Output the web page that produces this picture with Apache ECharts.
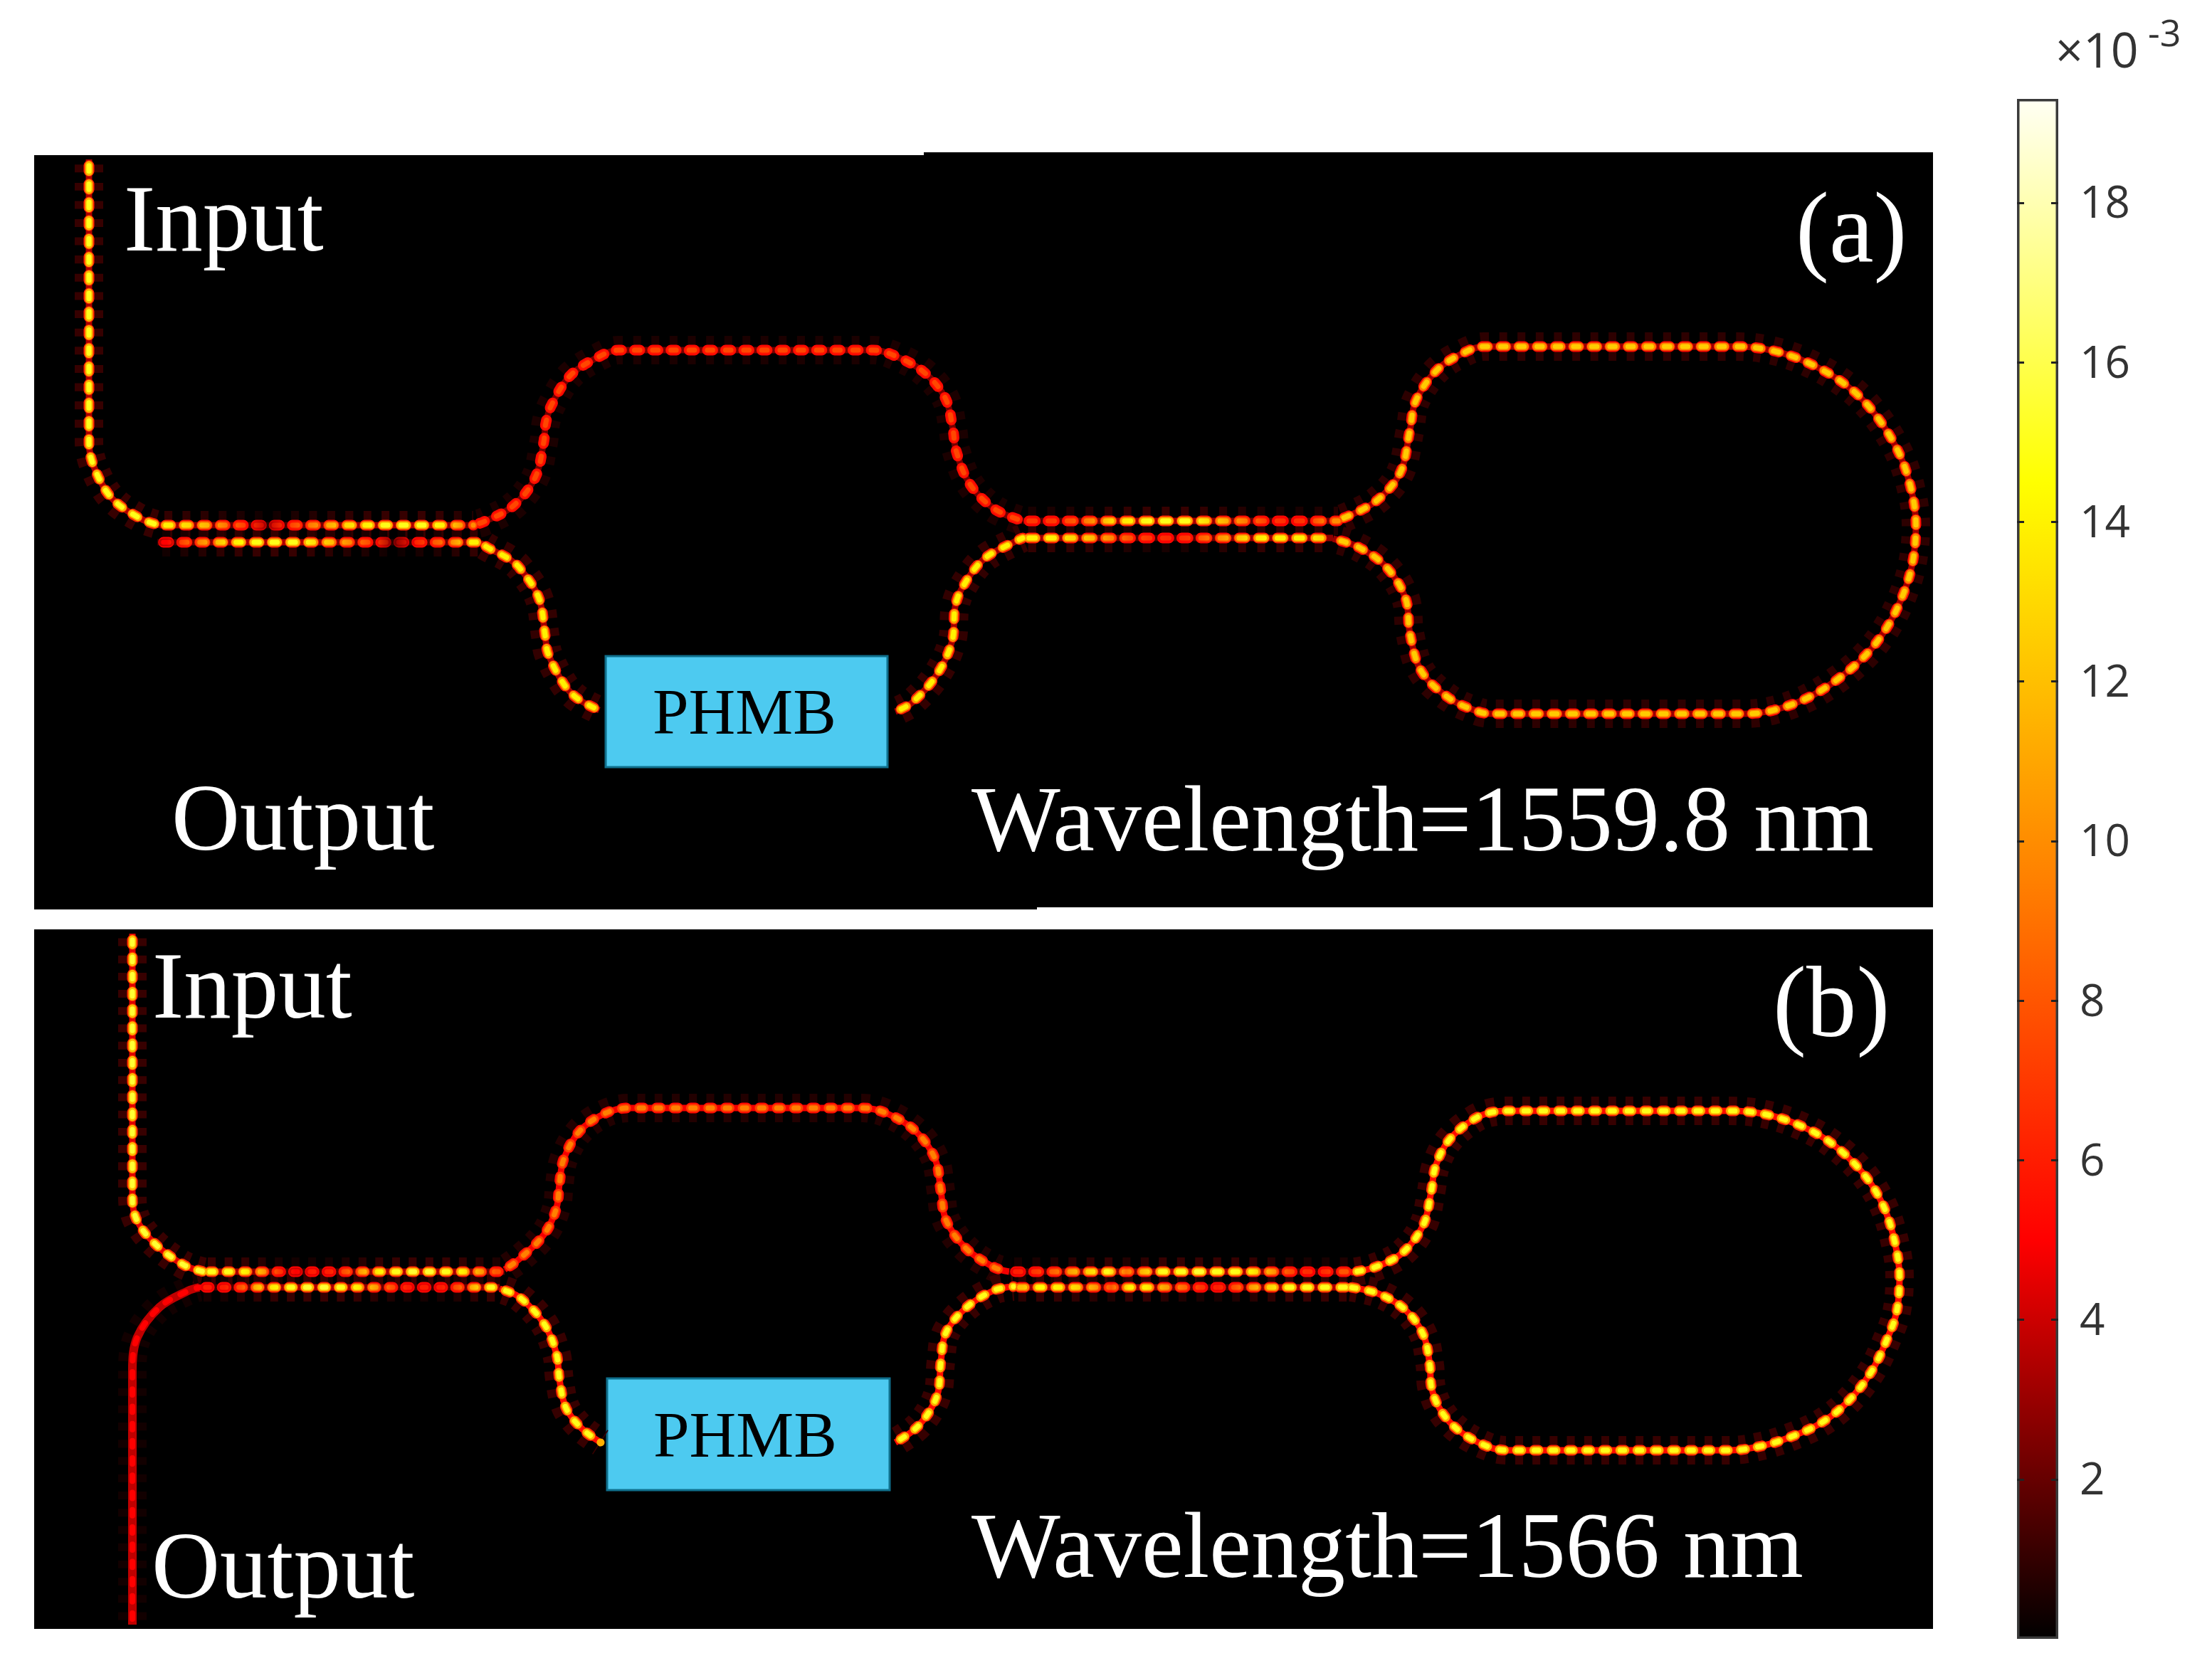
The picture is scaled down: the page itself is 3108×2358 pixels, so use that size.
<!DOCTYPE html>
<html>
<head>
<meta charset="utf-8">
<style>html,body{margin:0;padding:0;background:#fff}#c{width:3108px;height:2358px}</style>
<script src="https://cdn.jsdelivr.net/npm/echarts@6/dist/echarts.min.js"></script>
</head>
<body>
<div id="c"></div>
<script>
// ---------- colour scale (×10^-3) ----------
const scaleStops = [[0,'#000000'],[5,'#ff0000'],[9.5,'#ff8000'],[14.5,'#ffff00'],[19.3,'#fffff4']];
const scaleMax = 19.3;
const scaleTicks = [2,4,6,8,10,12,14,16,18];

// ---------- waveguide centre lines, panel (a) ----------
const aInput = [[125,224],[125,621],[132,656],[157,700],[198,729],[224,738]];
const aUpperLoop = [[665,737],[678,734],[721,711],[752,671],[764,621],[767,594],[775,569],[802,527],[844,500],[869,492],[1227,492],[1255,499],[1297,522],[1328,559],[1339,604],[1343,632],[1362,679],[1397,715],[1437,732]];
const aLowerLeft = [[675,763],[688,771],[713,784],[730,798],[757,840],[766,893],[770,918],[792,961],[812,982],[842,998]];
const aLowerRight = [[1258,1000],[1282,987],[1317,947],[1338,900],[1342,853],[1352,826],[1382,786],[1426,761],[1437,756]];
const aRing = [[1880,731],[1931,706],[1967,665],[1981,605],[1989,564],[2019,520],[2058,495],[2085,487],[2442,487],[2492,493],[2541,510],[2591,539],[2629,575],[2665,630],[2684,682],[2692,739],[2687,792],[2673,838],[2651,882],[2621,921],[2580,956],[2539,981],[2492,998],[2453,1003],[2096,1003],[2077,1000],[2036,981],[1997,943],[1981,890],[1975,841],[1948,797],[1909,769],[1873,757]];

// ---------- waveguide centre lines, panel (b) ----------
const bInput = [[186,1312],[186,1684],[193,1716],[219,1749],[259,1778],[286,1787]];
const bOutput = [[186,2283],[186,1925],[193,1879],[224,1837],[264,1814],[280,1809]];
const bUpperLoop = [[709,1784],[730,1769],[765,1734],[782,1697],[786,1664],[792,1629],[814,1590],[849,1565],[884,1557],[1212,1557],[1247,1565],[1287,1590],[1314,1629],[1322,1674],[1329,1714],[1357,1754],[1397,1781],[1418,1787]];
const bLowerLeft = [[702,1811],[730,1823],[765,1861],[782,1903],[786,1938],[795,1978],[817,2007],[844,2027]];
const bLowerRight = [[1258,2027],[1292,2002],[1317,1960],[1322,1913],[1329,1873],[1357,1838],[1397,1813],[1424,1808]];
const bRing = [[1898,1788],[1931,1781],[1970,1761],[2000,1721],[2011,1674],[2017,1639],[2036,1602],[2072,1572],[2102,1562],[2124,1561],[2431,1561],[2481,1566],[2530,1582],[2574,1607],[2618,1649],[2646,1694],[2662,1744],[2669,1794],[2665,1843],[2651,1883],[2629,1928],[2596,1970],[2558,2000],[2514,2020],[2475,2032],[2431,2038],[2118,2038],[2091,2033],[2052,2012],[2025,1983],[2011,1948],[2009,1918],[2000,1876],[1975,1841],[1937,1818],[1898,1809]];

// ---------- coupler straights: [x start, x end, y] and field peak of each lobe ----------
const aCoupLeftTop = [224,665,738];
const aCoupLeftTopPeaks = [14,13,11.5,9,7,4,7,9,11,13,14,15,15,15,14,10];
const aCoupLeftBot = [221,675,762];
const aCoupLeftBotPeaks = [5,8,10.5,13,14.5,15,15,15,13,11.5,9,7,3,6,8,10,14];
const aCoupMidTop = [1437,1880,732];
const aCoupMidTopPeaks = [7,7,8,10,13,14,15,15,15,13,11,9,7,6.5,7,10];
const aCoupMidBot = [1437,1873,756];
const aCoupMidBotPeaks = [14,14,13,12,10,8,7,6.5,7,9,11,13,14,14,14,13];
const bCoupLeftTop = [286,709,1787];
const bCoupLeftTopPeaks = [15,15,14,11,7,5,6,6,8,11,14,15,15.5,15.5,15,14,11,8];
const bCoupLeftBot = [280,702,1809];
const bCoupLeftBotPeaks = [6,6,8,12,14,15,15.5,15.5,15,14,11,8,6,6,6,8,12,15];
const bCoupMidTop = [1418,1898,1787];
const bCoupMidTopPeaks = [6,7,8.5,11,13,15,9,12,15,15,15.5,15,15,14,11,8,6.5,6.5,8];
const bCoupMidBot = [1424,1898,1809];
const bCoupMidBotPeaks = [12,14.5,14,13,11,8,14,14,11,9,7,6,8,11,13,15,15,15,15];

// ---------- panels, boxes, labels ----------
const panelRects = [[48,218,1298,1275],[1298,214,2716,1275],[48,1275,1457,1278],[48,1306,2716,2289]];
const boxRects = [[851,922,1247,1078],[853,1937,1250,2094]];
const boxLabels = [['PHMB',917,1034],['PHMB',918,2050]];
const panelLabels = [
  ['Input',174,357,133],['Output',241,1199,133],['Wavelength=1559.8 nm',1365,1200,132.2],['(a)',2523,373,141],
  ['Input',214,1435,133],['Output',213,2250,133],['Wavelength=1566 nm',1365,2221,132.2],['(b)',2491,1461,141]
];

// ---------- helpers ----------
function heat(v){
  v = Math.max(0, Math.min(scaleMax, v));
  for (let i = 1; i < scaleStops.length; i++) {
    const [a, ca] = scaleStops[i-1], [b, cb] = scaleStops[i];
    if (v <= b) {
      const t = (v-a)/(b-a), rgb = j => Math.round(parseInt(ca.substr(j,2),16)*(1-t)+parseInt(cb.substr(j,2),16)*t);
      return `rgb(${rgb(1)},${rgb(3)},${rgb(5)})`;
    }
  }
  return scaleStops[scaleStops.length-1][1];
}
const scaled = f => l => l*f;
const rimOf = l => Math.max(l*0.42, Math.min(l, 5.2));
function paint(level, fn, span){
  if (!Array.isArray(level)) return heat(fn(level));
  return {type:'linear', global:true, x:span[0], y:0, x2:span[1], y2:0,
    colorStops: level.map((l,i)=>({offset:(i+0.5)/level.length, color:heat(fn(l))}))};
}
const series = [];
function layer(name, path, z, width, dash, centre, colour, period, cap){
  const pattern = dash ? [dash, period-dash] : 'solid';
  series.push({type:'line', name, data:path, smooth:0.35, showSymbol:false, silent:true, animation:false, z,
    clip:true, lineStyle:{color:colour, width, type:pattern, dashOffset: dash ? (dash/2 - centre) : 0, cap}});
}
// one guided stretch: beat-pattern lobes painted from peak values
function guide(name, path, level, period, joint, flat, span){
  const g = period/2;
  layer(name+' sidelobe', path, 2, 40, 11, g, paint(level,scaled(0.07),span), period, 'butt');
  layer(name+' guide', path, 3, flat?12:9, 0, 0, paint(level,scaled(joint),span), period, 'butt');
  if (flat) { layer(name+' peak', path, 5, 8, 8, g, paint(level,scaled(1),span), period, 'round'); return; }
  layer(name+' rim', path, 4, 15, Math.max(period-18,1), g, paint(level,rimOf,span), period, 'round');
  layer(name+' mid', path, 5, 11, Math.max(period-16,1), g, paint(level,scaled(0.76),span), period, 'round');
  layer(name+' core', path, 6, 7, Math.max(period-18,1), g, paint(level,scaled(1),span), period, 'round');
}
function coupler(name, line, peaks, period){
  guide(name, [[line[0],line[2]],[line[1],line[2]]], peaks, period, 0.22, false, [line[0],line[1]]);
}
const pa = 25.6, pb = 24.2, pc = 26.8;
guide('a input', aInput, 15, pa, 0.22);
guide('a upper loop', aUpperLoop, 7.5, pa, 0.3);
guide('a lower left', aLowerLeft, 14, pa, 0.22);
guide('a lower right', aLowerRight, 14, pa, 0.22);
guide('a ring', aRing, 12.5, pa, 0.24);
coupler('a left top', aCoupLeftTop, aCoupLeftTopPeaks, 25.4);
coupler('a left bottom', aCoupLeftBot, aCoupLeftBotPeaks, 25.4);
coupler('a mid top', aCoupMidTop, aCoupMidTopPeaks, pc);
coupler('a mid bottom', aCoupMidBot, aCoupMidBotPeaks, pc);
guide('b input', bInput, 15.5, pb, 0.28);
guide('b output', bOutput, 5, pb, 0.75, true);
guide('b upper loop', bUpperLoop, 9.5, pb, 0.5);
guide('b lower left', bLowerLeft, 15, pb, 0.36);
guide('b lower right', bLowerRight, 15, pb, 0.36);
guide('b ring', bRing, 15, pb, 0.36);
coupler('b left top', bCoupLeftTop, bCoupLeftTopPeaks, 23.5);
coupler('b left bottom', bCoupLeftBot, bCoupLeftBotPeaks, 23.4);
coupler('b mid top', bCoupMidTop, bCoupMidTopPeaks, 25.4);
coupler('b mid bottom', bCoupMidBot, bCoupMidBotPeaks, 25);

const area = rects => rects.map(r => [{coord:[r[0],r[1]]},{coord:[r[2],r[3]]}]);
series.unshift({type:'line', name:'panels', data:[[48,218]], showSymbol:false, silent:true, animation:false, z:1,
  lineStyle:{width:0}, markArea:{silent:true, animation:false, itemStyle:{color:'#000',opacity:1}, data:area(panelRects)}});
series.push({type:'line', name:'PHMB', data:[[851,922]], showSymbol:false, silent:true, animation:false, z:20,
  lineStyle:{width:0}, markArea:{silent:true, animation:false,
    itemStyle:{color:'#4dcaf0',opacity:1,borderColor:'#0f6f8c',borderWidth:3}, data:area(boxRects)}});
// colour bar
series.push({type:'bar', name:'colour bar', xAxisIndex:1, yAxisIndex:1, data:[scaleMax], barWidth:'100%', silent:true, animation:false, z:2,
  itemStyle:{borderColor:'#3a3a3a', borderWidth:3.5,
    color:{type:'linear',x:0,y:1,x2:0,y2:0,colorStops:scaleStops.map(s=>({offset:s[0]/scaleMax,color:s[1]}))}}});

const baselineText = (t, x, y, size, fam, fill) => ({type:'text', z:30, style:{text:t, x, y:y-size*0.8, fill,
    font:`${size}px "${fam}"`, textBaseline:'top', textAlign:'left'}});
const texts = panelLabels.map(l => baselineText(l[0], l[1], l[2], l[3], 'Liberation Serif', '#fff'))
  .concat(boxLabels.map(l => baselineText(l[0], l[1], l[2], 91, 'Liberation Serif', '#000')))
  .concat([
    baselineText('×10', 2888, 96, 68, 'Open Sans', '#333'),
    baselineText('-3', 3018, 66, 52, 'Open Sans', '#333')
  ]);

const chart = echarts.init(document.getElementById('c'), null, {renderer:'canvas', width:3108, height:2358});
const tickLook = {show:true, inside:true, length:10, customValues:scaleTicks, lineStyle:{color:'#222', width:3}};
chart.setOption({
  animation:false,
  backgroundColor:'#fff',
  grid:[
    {left:0, top:0, width:3108, height:2358, containLabel:false},
    {left:2834, top:139, width:58, height:2164, containLabel:false}
  ],
  xAxis:[
    {type:'value', gridIndex:0, min:0, max:3108, show:false},
    {type:'category', gridIndex:1, data:['scale'], show:false}
  ],
  yAxis:[
    {type:'value', gridIndex:0, min:0, max:2358, inverse:true, show:false},
    {type:'value', gridIndex:1, min:0, max:scaleMax, position:'right', z:5,
      axisLine:{show:false}, splitLine:{show:false}, axisTick:tickLook,
      axisLabel:{customValues:scaleTicks, margin:30, fontFamily:'Open Sans', fontSize:62, color:'#333',
        formatter:'{v|{value}}', rich:{v:{fontFamily:'Open Sans', fontSize:62, color:'#333', padding:[8,0,0,0]}}}},
    {type:'value', gridIndex:1, min:0, max:scaleMax, position:'left', z:5,
      axisLine:{show:false}, splitLine:{show:false}, axisTick:tickLook, axisLabel:{show:false}}
  ],
  graphic:{elements:texts},
  series
});
</script>
</body>
</html>
